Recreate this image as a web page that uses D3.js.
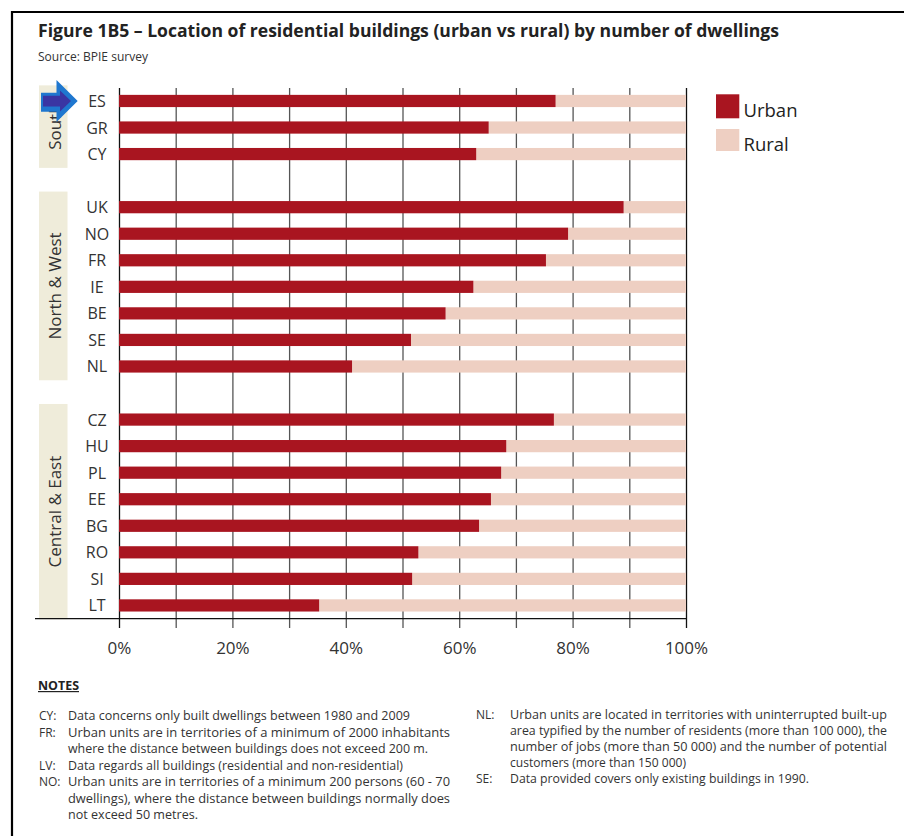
<!DOCTYPE html>
<html>
<head>
<meta charset="utf-8">
<script src="https://cdn.jsdelivr.net/npm/d3@7"></script>
<style>
  html, body { margin: 0; padding: 0; background: #fff; }
  svg { display: block; font-family: "Open Sans", "Noto Sans", sans-serif; }
</style>
</head>
<body>
<svg id="chart" width="904" height="836"></svg>
<script>
// ---------------- data ----------------
const countries = ["ES","GR","CY","UK","NO","FR","IE","BE","SE","NL","CZ","HU","PL","EE","BG","RO","SI","LT"];
const urbanShare = [77.0,65.2,63.0,89.0,79.2,75.3,62.5,57.6,51.5,41.1,76.7,68.3,67.4,65.6,63.5,52.8,51.7,35.3];
const regionNames = ["South","North & West","Central & East"];
const regionSizes = [3,7,8];
const tickValues = [0,10,20,30,40,50,60,70,80,90,100];
const tickLabels = ["0%","","20%","","40%","","60%","","80%","","100%"];
const seriesNames = ["Urban","Rural"];

const titleText = "Figure 1B5 – Location of residential buildings (urban vs rural) by number of dwellings";
const sourceText = "Source: BPIE survey";
const notesLeftCodes = ["CY:","FR:","","LV:","NO:","",""];
const notesLeftLines = [
  "Data concerns only built dwellings between 1980 and 2009",
  "Urban units are in territories of a minimum of 2000 inhabitants",
  "where the distance between buildings does not exceed 200 m.",
  "Data regards all buildings (residential and non-residential)",
  "Urban units are in territories of a minimum 200 persons (60 - 70",
  "dwellings), where the distance between buildings normally does",
  "not exceed 50 metres."
];
const notesLeftWidths = [342,382,360,335,382,382,130];
const notesRightCodes = ["NL:","","","","SE:"];
const notesRightLines = [
  "Urban units are located in territories with uninterrupted built-up",
  "area typified by the number of residents (more than 100 000), the",
  "number of jobs (more than 50 000) and the number of potential",
  "customers (more than 150 000)",
  "Data provided covers only existing buildings in 1990."
];
const notesRightWidths = [377,377,377,176,299];

// ---------------- styles ----------------
const C_URBAN = "#a91520", C_RURAL = "#eecfc2", C_BOX = "#efecda", C_TEXT = "#333";

const svg = d3.select("#chart");

// frame
svg.append("path").attr("d","M12,836 V12 H904").attr("fill","none").attr("stroke","#000").attr("stroke-width",2.2);

// title
svg.append("text").attr("x",38).attr("y",37).attr("font-weight",700).attr("font-size",18)
  .attr("fill","#222").attr("textLength",741).attr("lengthAdjust","spacingAndGlyphs").text(titleText);
svg.append("text").attr("x",38).attr("y",61).attr("font-size",12).attr("fill","#333")
  .attr("textLength",110).attr("lengthAdjust","spacingAndGlyphs").text(sourceText);

// slots: countries + spacers between regions
const slots = [];
let idx = 0;
regionSizes.forEach((n, r) => {
  for (let i = 0; i < n; i++) slots.push(countries[idx++]);
  if (r < regionSizes.length - 1) slots.push("gap" + r);
});

const x = d3.scaleLinear().domain([0,100]).range([119,686]);
const y = d3.scaleBand().domain(slots).range([87.7,618.7]).paddingInner(0.54).paddingOuter(0.27);

// region boxes
idx = 0;
regionSizes.forEach((n, r) => {
  const first = countries[idx], last = countries[idx + n - 1];
  idx += n;
  const top = y(first) - 9.5, bot = y(last) + y.bandwidth() + 7.7;
  svg.append("rect").attr("x",39).attr("y",top).attr("width",28.5).attr("height",bot-top).attr("fill",C_BOX);
  svg.append("text").attr("transform",`translate(54.5,${(top+bot)/2}) rotate(-90)`)
    .attr("text-anchor","middle").attr("dominant-baseline","central")
    .attr("font-size",17).attr("fill",C_TEXT).text(regionNames[r]);
});

// axis with gridlines
const axisY = 628;
const ax = svg.append("g").attr("transform",`translate(0,${axisY})`)
  .call(d3.axisBottom(x).tickValues(tickValues).tickSize(-(axisY-88)).tickPadding(14)
    .tickFormat((d,i) => tickLabels[i]));
ax.select(".domain").remove();
ax.selectAll(".tick line").attr("stroke", d => (d === 0 || d === 100) ? "#111" : "#555").attr("stroke-width",1.3);
ax.selectAll(".tick text").attr("font-size",17).attr("fill",C_TEXT).attr("font-family","'Open Sans', sans-serif");

// horizontal baseline
svg.append("line").attr("x1",35).attr("x2",x(100)).attr("y1",618.7).attr("y2",618.7).attr("stroke","#111").attr("stroke-width",1.3);

// bars
const rows = countries.map((c,i) => ({c, u: urbanShare[i]}));
const g = svg.append("g");
g.selectAll("rect.rural").data(rows).join("rect").attr("class","rural")
  .attr("x", d => x(d.u)).attr("y", d => y(d.c)).attr("width", d => x(100) - x(d.u))
  .attr("height", y.bandwidth()).attr("fill", C_RURAL);
g.selectAll("rect.urban").data(rows).join("rect").attr("class","urban")
  .attr("x", x(0)).attr("y", d => y(d.c)).attr("width", d => x(d.u) - x(0))
  .attr("height", y.bandwidth()).attr("fill", C_URBAN);

// country labels
svg.selectAll("text.cty").data(rows).join("text").attr("class","cty")
  .attr("x",97).attr("y", d => y(d.c) + y.bandwidth()/2).attr("text-anchor","middle")
  .attr("dominant-baseline","central").attr("font-size",16).attr("fill",C_TEXT).text(d => d.c);

// arrow (decoration)
svg.append("path").attr("d","M41,92.7 H56.5 V80 L77.7,101 L56.5,122 V111.7 H41 Z").attr("fill","#1f77cf");
svg.append("path").attr("d","M43,95.8 H60 V90.5 L71,101 L60,111.5 V106.5 H43 Z").attr("fill","#3a35a3");

// legend
const lg = svg.append("g");
[0,1].forEach(i => {
  const yy = i === 0 ? 94.3 : 129;
  lg.append("rect").attr("x",716).attr("y",yy).attr("width",23.3).attr("height",i===0?24:22)
    .attr("fill", i === 0 ? C_URBAN : C_RURAL);
  lg.append("text").attr("x",743.5).attr("y", i === 0 ? 116.7 : 151).attr("font-size",18.5)
    .attr("fill","#222").text(seriesNames[i]);
});

// notes
svg.append("text").attr("x",38).attr("y",690).attr("font-weight",700).attr("font-size",12)
  .attr("fill","#222").attr("text-decoration","underline").attr("textLength",41)
  .attr("lengthAdjust","spacingAndGlyphs").text("NOTES");

const noteFS = 12;
notesLeftLines.forEach((t,i) => {
  const yy = 720 + i*16.5;
  if (notesLeftCodes[i]) svg.append("text").attr("x",39).attr("y",yy).attr("font-size",noteFS).attr("fill","#333").text(notesLeftCodes[i]);
  svg.append("text").attr("x",68).attr("y",yy).attr("font-size",noteFS).attr("fill","#333")
    .attr("textLength",notesLeftWidths[i]).attr("lengthAdjust","spacingAndGlyphs").text(t);
});
notesRightLines.forEach((t,i) => {
  const yy = 719 + i*16;
  if (notesRightCodes[i]) svg.append("text").attr("x",476).attr("y",yy).attr("font-size",noteFS).attr("fill","#333").text(notesRightCodes[i]);
  svg.append("text").attr("x",510).attr("y",yy).attr("font-size",noteFS).attr("fill","#333")
    .attr("textLength",notesRightWidths[i]).attr("lengthAdjust","spacingAndGlyphs").text(t);
});
</script>
</body>
</html>
